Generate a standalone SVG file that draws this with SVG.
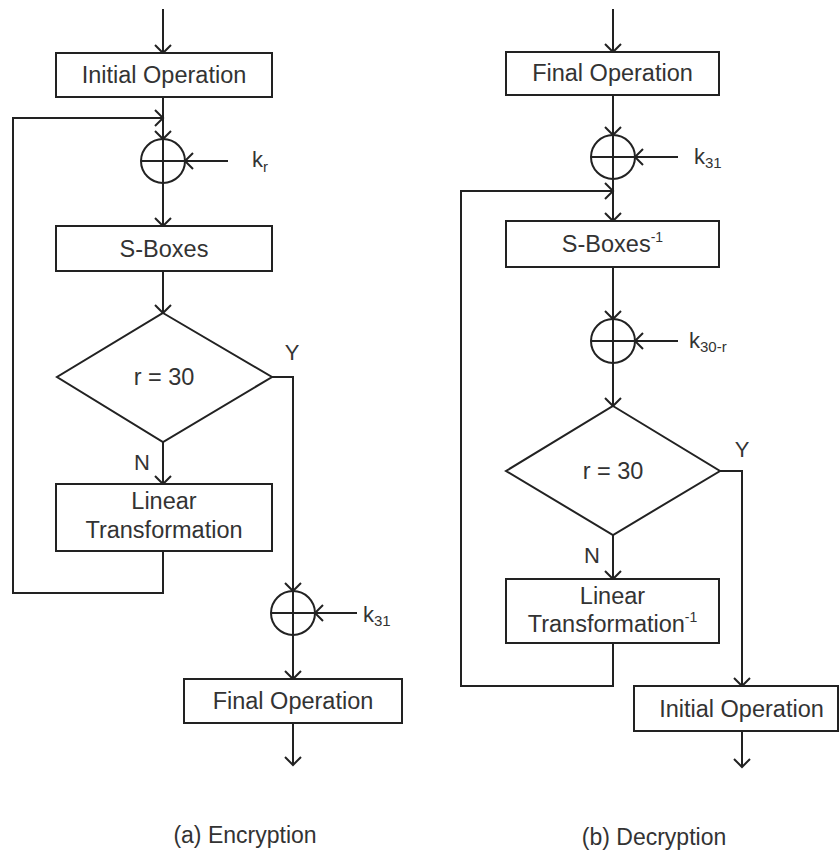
<svg xmlns="http://www.w3.org/2000/svg" width="839" height="852" viewBox="0 0 839 852">
  <style>
    .box { fill: #fff; stroke: #222; stroke-width: 2; }
    .ln { fill: none; stroke: #222; stroke-width: 2; }
    .arr { fill: none; stroke: #222; stroke-width: 2; marker-end: url(#head); }
    text { font-family: "Liberation Sans", Arial, sans-serif; fill: #333; }
    .lbl { font-size: 23.5px; text-anchor: middle; }
    .key { font-size: 22px; }
    .sub { font-size: 15px; }
    .sup { font-size: 14px; }
    .cap { font-size: 23px; text-anchor: middle; }
  </style>
  <defs>
    <marker id="head" viewBox="-10 -10 20 20" refX="0" refY="0" markerWidth="20" markerHeight="20" markerUnits="userSpaceOnUse" orient="auto">
      <path d="M-8,-8 L0,0 L-8,8" fill="none" stroke="#222" stroke-width="2"/>
    </marker>
  </defs>
  <rect width="839" height="852" fill="#fff"/>

  <!-- connectors -->
  <g id="connectors">
    <!-- (a) encryption -->
    <line class="arr" x1="163" y1="9" x2="163" y2="53"/>
    <line class="arr" x1="163" y1="97" x2="163" y2="139"/>
    <line class="arr" x1="228" y1="161" x2="185" y2="161"/>
    <line class="arr" x1="163" y1="183" x2="163" y2="226"/>
    <line class="arr" x1="163" y1="271" x2="163" y2="313"/>
    <line class="arr" x1="163" y1="442" x2="163" y2="484"/>
    <path class="arr" d="M163,551 V593 H13 V118 H163"/>
    <path class="arr" d="M272,377 H293 V591"/>
    <line class="arr" x1="357" y1="613" x2="315" y2="613"/>
    <line class="arr" x1="293" y1="635" x2="293" y2="679"/>
    <line class="arr" x1="293" y1="723" x2="293" y2="765"/>
    <!-- (b) decryption -->
    <line class="arr" x1="613" y1="9" x2="613" y2="52"/>
    <line class="arr" x1="613" y1="95" x2="613" y2="135"/>
    <line class="arr" x1="678" y1="157" x2="635" y2="157"/>
    <line class="arr" x1="613" y1="179" x2="613" y2="221"/>
    <path class="arr" d="M613,643 V686 H461 V191 H613"/>
    <line class="arr" x1="613" y1="267" x2="613" y2="319"/>
    <line class="arr" x1="678" y1="341" x2="635" y2="341"/>
    <line class="arr" x1="613" y1="363" x2="613" y2="406"/>
    <path class="arr" d="M720,471 H742 V686"/>
    <line class="arr" x1="613" y1="535" x2="613" y2="579"/>
    <line class="arr" x1="742" y1="731" x2="742" y2="767"/>
  </g>

  <!-- (a) Encryption -->
  <g id="enc-initial">
    <rect class="box" x="56" y="53" width="216" height="44"/>
    <text class="lbl" x="164" y="83">Initial Operation</text>
  </g>
  <g id="enc-xor-kr">
    <circle class="ln" cx="163" cy="161" r="22"/>
    <line class="ln" x1="141" y1="161" x2="185" y2="161"/>
    <line class="ln" x1="163" y1="139" x2="163" y2="183"/>
    <text class="key" x="252" y="167">k<tspan class="sub" dy="5">r</tspan></text>
  </g>
  <g id="enc-sboxes">
    <rect class="box" x="56" y="226" width="216" height="45"/>
    <text class="lbl" x="164" y="257">S-Boxes</text>
  </g>
  <g id="enc-test">
    <polygon class="box" points="163,313 272,377 163,442 57,377"/>
    <text class="lbl" x="164" y="385">r = 30</text>
    <text class="key" x="292" y="360" text-anchor="middle">Y</text>
    <text class="key" x="142" y="470" text-anchor="middle">N</text>
  </g>
  <g id="enc-linear">
    <rect class="box" x="56" y="484" width="216" height="67"/>
    <text class="lbl" x="164" y="509">Linear</text>
    <text class="lbl" x="164" y="538">Transformation</text>
  </g>
  <g id="enc-xor-k31">
    <circle class="ln" cx="293" cy="613" r="22"/>
    <line class="ln" x1="271" y1="613" x2="315" y2="613"/>
    <line class="ln" x1="293" y1="591" x2="293" y2="635"/>
    <text class="key" x="363" y="622">k<tspan class="sub" dy="4">31</tspan></text>
  </g>
  <g id="enc-final">
    <rect class="box" x="184" y="679" width="218" height="44"/>
    <text class="lbl" x="293" y="709">Final Operation</text>
  </g>
  <text class="cap" x="245" y="843">(a) Encryption</text>

  <!-- (b) Decryption -->
  <g id="dec-final">
    <rect class="box" x="506" y="52" width="213" height="43"/>
    <text class="lbl" x="612.5" y="81">Final Operation</text>
  </g>
  <g id="dec-xor-k31">
    <circle class="ln" cx="613" cy="157" r="22"/>
    <line class="ln" x1="591" y1="157" x2="635" y2="157"/>
    <line class="ln" x1="613" y1="135" x2="613" y2="179"/>
    <text class="key" x="694" y="164">k<tspan class="sub" dy="4">31</tspan></text>
  </g>
  <g id="dec-sboxes">
    <rect class="box" x="506" y="221" width="213" height="46"/>
    <text class="lbl" x="612.5" y="252">S-Boxes<tspan class="sup" dy="-10">-1</tspan></text>
  </g>
  <g id="dec-xor-k30r">
    <circle class="ln" cx="613" cy="341" r="22"/>
    <line class="ln" x1="591" y1="341" x2="635" y2="341"/>
    <line class="ln" x1="613" y1="319" x2="613" y2="363"/>
    <text class="key" x="689" y="348">k<tspan class="sub" dy="4">30-r</tspan></text>
  </g>
  <g id="dec-test">
    <polygon class="box" points="613,406 720,471 613,535 506,471"/>
    <text class="lbl" x="613" y="479">r = 30</text>
    <text class="key" x="742" y="457" text-anchor="middle">Y</text>
    <text class="key" x="592" y="563" text-anchor="middle">N</text>
  </g>
  <g id="dec-linear">
    <rect class="box" x="506" y="579" width="213" height="64"/>
    <text class="lbl" x="612.5" y="604">Linear</text>
    <text class="lbl" x="612.5" y="632">Transformation<tspan class="sup" dy="-10">-1</tspan></text>
  </g>
  <g id="dec-initial">
    <rect class="box" x="634" y="686" width="204" height="45"/>
    <text class="lbl" x="741.5" y="717">Initial Operation</text>
  </g>
  <text class="cap" x="654" y="845">(b) Decryption</text>
</svg>
